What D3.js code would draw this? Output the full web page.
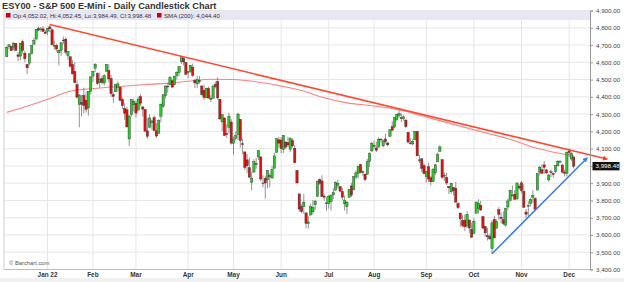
<!DOCTYPE html>
<html>
<head>
<meta charset="utf-8">
<script src="https://cdn.jsdelivr.net/npm/d3@7"></script>
<style>
  body { margin: 0; background: #fff; }
  svg { display: block; font-family: "Liberation Sans", Arial, sans-serif; }
</style>
</head>
<body>
<svg id="chart" width="624" height="282"></svg>
<script>
// daily candles [open, high, low, close], one array per month
var dec21 = [[4632,4694,4632,4687],[4691,4705,4675,4701],[4691,4695,4666,4667],[4688,4714,4670,4712],[4710,4710,4668,4669],[4643,4660,4607,4634],[4636,4713,4611,4710],[4719,4732,4652,4669],[4653,4667,4600,4621],[4588,4588,4531,4568],[4595,4651,4583,4649],[4650,4698,4646,4697],[4704,4741,4704,4726],[4734,4791,4734,4791],[4795,4807,4780,4786],[4789,4804,4778,4793],[4794,4809,4775,4779],[4775,4787,4766,4766]];
var jan22 = [[4778,4797,4758,4797],[4805,4819,4774,4794],[4788,4798,4699,4701],[4693,4725,4671,4696],[4698,4708,4663,4677],[4655,4673,4582,4670],[4669,4714,4638,4713],[4729,4749,4707,4726],[4734,4744,4650,4659],[4638,4665,4615,4663],[4632,4632,4569,4577],[4588,4612,4530,4533],[4547,4602,4478,4483],[4471,4495,4395,4398],[4356,4417,4223,4410],[4367,4411,4287,4356],[4408,4453,4305,4350],[4381,4429,4310,4327],[4336,4433,4292,4432],[4432,4517,4414,4516]];
var feb22 = [[4520,4550,4484,4547],[4566,4595,4544,4589],[4535,4543,4470,4477],[4483,4540,4452,4501],[4506,4522,4471,4484],[4480,4531,4465,4522],[4547,4590,4547,4587],[4553,4589,4484,4504],[4506,4526,4401,4419],[4413,4426,4365,4402],[4429,4473,4429,4471],[4456,4490,4430,4475],[4456,4456,4374,4380],[4385,4395,4327,4349],[4333,4362,4267,4305],[4325,4342,4222,4226],[4156,4295,4115,4289],[4298,4385,4287,4385],[4354,4389,4315,4374]];
var mar22 = [[4363,4378,4280,4306],[4323,4401,4323,4387],[4401,4417,4346,4363],[4342,4342,4285,4329],[4327,4327,4200,4201],[4203,4277,4158,4171],[4223,4299,4223,4278],[4253,4268,4210,4260],[4280,4291,4200,4204],[4203,4248,4162,4173],[4189,4271,4188,4262],[4288,4359,4252,4358],[4345,4413,4336,4412],[4407,4465,4391,4463],[4462,4482,4424,4461],[4469,4522,4469,4512],[4493,4501,4456,4456],[4470,4521,4465,4520],[4523,4546,4501,4543],[4541,4576,4518,4576],[4603,4637,4590,4632],[4624,4628,4581,4602],[4599,4603,4530,4530]];
var apr22 = [[4540,4549,4508,4546],[4548,4584,4539,4583],[4572,4593,4514,4525],[4494,4504,4450,4481],[4475,4521,4450,4500],[4494,4520,4475,4488],[4463,4464,4408,4413],[4438,4471,4381,4397],[4394,4454,4393,4447],[4449,4460,4391,4393],[4386,4410,4370,4392],[4391,4471,4391,4462],[4472,4488,4449,4459],[4489,4513,4384,4394],[4386,4386,4268,4272],[4255,4299,4201,4296],[4278,4278,4175,4175],[4187,4241,4163,4184],[4223,4308,4189,4288],[4254,4270,4124,4132]];
var may22 = [[4131,4170,4063,4155],[4160,4200,4147,4175],[4181,4308,4149,4300],[4270,4270,4106,4147],[4128,4158,4068,4123],[4081,4081,3975,3991],[4035,4069,3958,4001],[3990,4049,3929,3935],[3904,3965,3859,3930],[3964,4039,3964,4024],[4013,4046,3984,4008],[4052,4091,4034,4089],[4052,4052,3912,3924],[3899,3946,3877,3901],[3928,3943,3810,3901],[3919,3975,3869,3974],[3943,3956,3875,3941],[3930,3999,3925,3979],[3985,4075,3985,4058],[4077,4158,4077,4158],[4151,4168,4105,4132]];
var jun22 = [[4150,4167,4074,4101],[4095,4178,4074,4177],[4138,4143,4099,4109],[4135,4169,4109,4121],[4096,4165,4080,4161],[4147,4160,4107,4116],[4102,4119,4017,4018],[3974,3974,3900,3901],[3838,3838,3734,3750],[3764,3778,3725,3735],[3764,3838,3722,3790],[3728,3728,3640,3667],[3666,3708,3637,3675],[3715,3780,3715,3765],[3734,3802,3718,3760],[3775,3803,3744,3796],[3822,3914,3822,3912],[3921,3928,3890,3900],[3913,3946,3820,3822],[3825,3837,3799,3819],[3786,3819,3739,3785]];
var jul22 = [[3781,3830,3752,3825],[3793,3832,3742,3831],[3832,3871,3809,3845],[3859,3911,3859,3903],[3888,3919,3869,3899],[3881,3881,3847,3854],[3852,3873,3802,3819],[3780,3829,3741,3802],[3764,3796,3722,3790],[3818,3864,3817,3863],[3884,3902,3819,3831],[3861,3940,3861,3937],[3935,3974,3922,3960],[3955,3999,3927,3999],[4008,4012,3956,3962],[3966,3975,3943,3967],[3953,3953,3911,3921],[3951,4040,3951,4024],[4026,4079,3993,4072],[4087,4140,4079,4130]];
var aug22 = [[4112,4145,4096,4119],[4104,4140,4080,4091],[4108,4168,4108,4155],[4155,4161,4135,4152],[4116,4152,4107,4145],[4156,4187,4129,4140],[4133,4137,4112,4122],[4170,4211,4170,4210],[4227,4258,4201,4207],[4225,4280,4220,4280],[4269,4302,4257,4297],[4290,4325,4278,4305],[4280,4302,4253,4274],[4273,4293,4262,4284],[4266,4266,4219,4228],[4195,4195,4130,4138],[4133,4160,4124,4129],[4127,4157,4120,4141],[4153,4201,4148,4199],[4199,4203,4058,4058],[4035,4063,4017,4031],[4041,4045,3965,3986],[4001,4015,3955,3955]];
var sep22 = [[3937,3970,3904,3967],[3995,4018,3906,3924],[3931,3943,3887,3908],[3909,3988,3906,3980],[3960,4011,3945,4006],[4023,4077,4023,4067],[4084,4119,4084,4110],[4037,4037,3927,3933],[3941,3962,3912,3946],[3932,3959,3888,3901],[3881,3881,3837,3873],[3850,3900,3839,3900],[3875,3876,3828,3856],[3871,3907,3789,3790],[3782,3791,3750,3758],[3727,3727,3647,3693],[3683,3716,3645,3655],[3686,3718,3623,3647],[3652,3737,3641,3719],[3687,3687,3610,3640],[3633,3671,3584,3586]];
var oct22 = [[3610,3698,3605,3678],[3726,3792,3726,3791],[3753,3807,3723,3783],[3772,3798,3739,3745],[3707,3707,3631,3640],[3648,3652,3588,3612],[3596,3641,3568,3589],[3591,3608,3574,3577],[3520,3685,3492,3670],[3690,3712,3580,3583],[3639,3690,3639,3678],[3746,3763,3687,3720],[3703,3729,3667,3695],[3689,3736,3656,3666],[3657,3758,3647,3753],[3762,3811,3742,3797],[3799,3863,3799,3859],[3826,3886,3824,3831],[3835,3860,3804,3807],[3808,3905,3808,3901],[3882,3894,3863,3872]];
var nov22 = [[3902,3912,3844,3856],[3853,3894,3759,3760],[3733,3751,3698,3720],[3767,3796,3709,3771],[3781,3814,3765,3807],[3817,3859,3786,3828],[3811,3818,3744,3749],[3860,3958,3860,3956],[3964,4001,3945,3993],[3978,4009,3956,3957],[4006,4029,3953,3992],[3977,3983,3954,3959],[3919,3954,3907,3947],[3966,3980,3936,3965],[3956,3962,3933,3950],[3966,4006,3957,4004],[4000,4034,3999,4027],[4023,4034,4021,4026],[4005,4012,3956,3964],[3964,3977,3938,3958],[3957,4080,3939,4080]];
var dec22 = [[4087,4101,4051,4077],[4040,4080,4027,4072],[4052.02,4052.45,3984.49,3998.48]];

var months = [dec21, jan22, feb22, mar22, apr22, may22, jun22, jul22, aug22, sep22, oct22, nov22, dec22];
var monthLabels = [null, "Jan 22", "Feb", "Mar", "Apr", "May", "Jun", "Jul", "Aug", "Sep", "Oct", "Nov", "Dec"];

// price axis ticks
var yTicks = [3400, 3500, 3600, 3700, 3800, 3900, 4000, 4100, 4200, 4300, 4400, 4500, 4600, 4700, 4800, 4900];

// 200 day moving average (candle index, value)
var smaIdx = [0, 10, 20, 28, 40, 50, 60, 70, 80, 90, 100, 110, 120, 130, 140, 150, 160, 173, 183, 193, 203, 213, 223, 233, 243, 250];
var smaVal = [4310, 4350, 4395, 4432, 4450, 4460, 4470, 4478, 4490, 4502, 4500, 4487, 4465, 4437, 4395, 4365, 4350, 4325, 4290, 4255, 4220, 4185, 4150, 4105, 4075, 4060];
var smaLast = 4044.40;

// drawn trend lines (candle index, price)
var downIdx = [19, 264.7];
var downVal = [4818.62, 4040];
var upIdx = [214, 255.9];
var upVal = [3491.58, 4046];

var candles = [];
var monthStarts = [];
months.forEach(function (m, k) {
    monthStarts.push({ idx: candles.length, label: monthLabels[k] });
    m.forEach(function (d) {
        candles.push({ i: candles.length, o: d[0], h: d[1], l: d[2], c: d[3] });
    });
});
var last = candles[candles.length - 1];

var svg = d3.select("#chart");
var pL = 4, pR = 590, pT = 10.5, pB = 269.5;

var x = d3.scaleLinear().domain([-1.2, 257.2]).range([pL, pR]);
var y = d3.scaleLinear().domain([3400, 4900]).range([pB, pT]);
var fmt = d3.format(",.2f");

// bottom strip
svg.append("rect").attr("x", 0).attr("y", 278).attr("width", 624).attr("height", 4).attr("fill", "#f1f1f1");

// grid
svg.append("g").selectAll("line").data(yTicks).join("line")
    .attr("x1", pL).attr("x2", pR)
    .attr("y1", function (d) { return y(d); }).attr("y2", function (d) { return y(d); })
    .attr("stroke", "#e6e6e6").attr("stroke-width", 1);
svg.append("g").selectAll("line").data(monthStarts.filter(function (d) { return d.label; })).join("line")
    .attr("x1", function (d) { return x(d.idx); }).attr("x2", function (d) { return x(d.idx); })
    .attr("y1", pT).attr("y2", pB)
    .attr("stroke", "#e6e6e6").attr("stroke-width", 1);

// frame
svg.append("line").attr("x1", pL).attr("x2", pL).attr("y1", pT).attr("y2", pB).attr("stroke", "#cfcfcf");
svg.append("line").attr("x1", pL).attr("x2", pR).attr("y1", pB).attr("y2", pB).attr("stroke", "#bbb");

// legend band
svg.append("rect").attr("x", pL).attr("y", 11).attr("width", pR - pL).attr("height", 9).attr("fill", "#e6e6f7");
svg.append("rect").attr("x", 6).attr("y", 13).attr("width", 4.5).attr("height", 4.5).attr("fill", "#cc0000");
svg.append("text").attr("x", 13).attr("y", 18).attr("font-size", 6.1).attr("fill", "#333")
    .text("Op:" + fmt(last.o) + ", Hi:" + fmt(last.h) + ", Lo:" + fmt(last.l) + ", Cl:" + fmt(last.c));
svg.append("rect").attr("x", 157).attr("y", 13).attr("width", 4.5).attr("height", 4.5).attr("fill", "#cc0000");
svg.append("text").attr("x", 164).attr("y", 18).attr("font-size", 6.1).attr("fill", "#333")
    .text("SMA (200): " + fmt(smaLast));

// title
svg.append("text").attr("x", 2).attr("y", 8.8).attr("font-size", 9.2).attr("font-weight", "bold").attr("fill", "#333")
    .text("ESY00 - S&P 500 E-Mini - Daily Candlestick Chart");

// moving average
var line = d3.line().x(function (d) { return x(d[0]); }).y(function (d) { return y(d[1]); }).curve(d3.curveMonotoneX);
svg.append("path").datum(d3.zip(smaIdx, smaVal)).attr("d", line)
    .attr("fill", "none").attr("stroke", "#ff8080").attr("stroke-width", 1.1);

// candles
var w = 2.3;
var g = svg.append("g");
g.selectAll("line").data(candles).join("line")
    .attr("x1", function (d) { return x(d.i); }).attr("x2", function (d) { return x(d.i); })
    .attr("y1", function (d) { return y(d.h); }).attr("y2", function (d) { return y(d.l); })
    .attr("stroke", "#666").attr("stroke-width", 0.7);
g.selectAll("rect").data(candles).join("rect")
    .attr("x", function (d) { return x(d.i) - w / 2; })
    .attr("y", function (d) { return y(Math.max(d.o, d.c)); })
    .attr("width", w)
    .attr("height", function (d) { return Math.max(0.8, Math.abs(y(d.o) - y(d.c))); })
    .attr("fill", function (d) { return d.c >= d.o ? "#22cc22" : "#dd1111"; })
    .attr("stroke", "#333").attr("stroke-width", 0.4);

// trend lines with arrows
var defs = svg.append("defs");
[["arrRed", "#ff3b2a"], ["arrBlue", "#3a7be8"]].forEach(function (a) {
    defs.append("marker").attr("id", a[0]).attr("viewBox", "0 0 10 10").attr("refX", 8).attr("refY", 5)
        .attr("markerWidth", 5).attr("markerHeight", 5).attr("orient", "auto").attr("markerUnits", "userSpaceOnUse")
        .append("path").attr("d", "M0,0L10,5L0,10z").attr("fill", a[1]);
});
var straight = d3.line().x(function (d) { return x(d[0]); }).y(function (d) { return y(d[1]); });
svg.append("path").datum(d3.zip(downIdx, downVal)).attr("d", straight)
    .attr("stroke", "#ff4a32").attr("stroke-width", 1.6).attr("fill", "none").attr("marker-end", "url(#arrRed)");
svg.append("path").datum(d3.zip(upIdx, upVal)).attr("d", straight)
    .attr("stroke", "#3a7be8").attr("stroke-width", 1.5).attr("fill", "none").attr("marker-end", "url(#arrBlue)");

// price axis
var ax = svg.append("g").attr("transform", "translate(" + pR + ",0)")
    .call(d3.axisRight(y).tickValues(yTicks).tickFormat(fmt).tickSize(3).tickPadding(3));
ax.select(".domain").attr("stroke", "#999");
ax.selectAll(".tick line").attr("stroke", "#999");
ax.selectAll("text").attr("font-size", 6.2).attr("fill", "#444").attr("font-family", "Liberation Sans, Arial, sans-serif");

// last price box
svg.append("rect").attr("x", pR + 2.5).attr("y", y(last.c) - 4.2).attr("width", 27).attr("height", 8.4).attr("fill", "#111");
svg.append("text").attr("x", pR + 5.5).attr("y", y(last.c) + 2.2).attr("font-size", 6.2).attr("fill", "#fff").text(fmt(last.c));

// month labels
svg.append("g").selectAll("text").data(monthStarts.filter(function (d) { return d.label; })).join("text")
    .attr("x", function (d) { return x(d.idx); }).attr("y", 277)
    .attr("text-anchor", "middle").attr("font-size", 6.4).attr("font-weight", "bold").attr("fill", "#333")
    .text(function (d) { return d.label; });

// watermark
svg.append("text").attr("x", 9).attr("y", 265).attr("font-size", 5.8).attr("fill", "#555").text("\u00a9 Barchart.com");
</script>
</body>
</html>
